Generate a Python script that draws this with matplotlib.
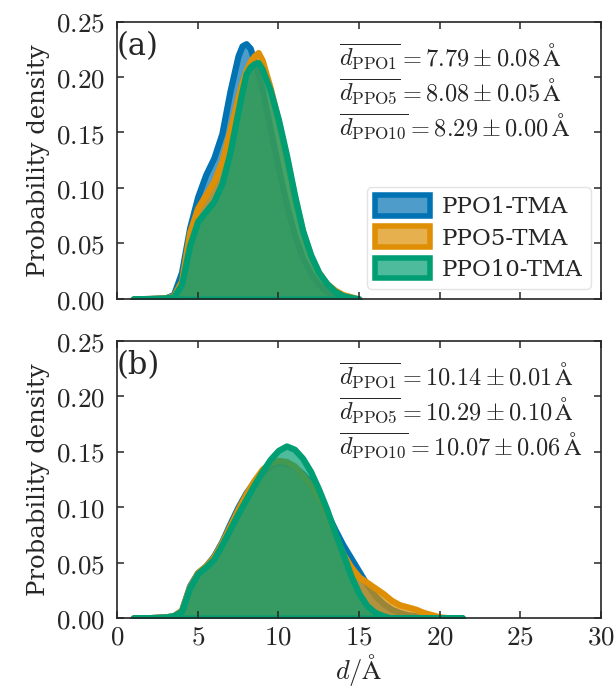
import numpy as np
import matplotlib
matplotlib.use("Agg")
import matplotlib.pyplot as plt
from matplotlib.ticker import FuncFormatter
from matplotlib.colors import to_rgba
from matplotlib.patches import Patch

plt.rcParams['font.family'] = ['DejaVu Serif']
plt.rcParams['mathtext.fontset'] = 'cm'

labels = ["PPO1-TMA", "PPO5-TMA", "PPO10-TMA"]
colors = ["#0173B2", "#DE8F05", "#029E73"]

# Panel (a)
xa = [1, 2, 3, 3.5, 4, 4.5, 5, 5.5, 6, 6.5, 7, 7.5, 7.75, 8, 8.25, 8.5, 8.75, 9, 9.5,
      10, 10.5, 11, 11.5, 12, 12.5, 13, 13.5, 14, 15]
a_ppo1 = [0, 0.0005, 0.001, 0.004, 0.024, 0.064, 0.092, 0.112, 0.127, 0.149, 0.187, 0.219, 0.228, 0.230,
          0.226, 0.215, 0.202, 0.188, 0.153, 0.118, 0.085, 0.058, 0.037, 0.023, 0.013, 0.007, 0.004, 0.002, 0]
a_ppo5 = [0, 0.0005, 0.001, 0.003, 0.016, 0.060, 0.082, 0.094, 0.106, 0.124, 0.152, 0.182, 0.195, 0.206,
          0.214, 0.219, 0.222, 0.215, 0.190, 0.160, 0.127, 0.092, 0.061, 0.039, 0.024, 0.014, 0.008, 0.004, 0]
a_ppo10 = [0, 0.0003, 0.001, 0.002, 0.013, 0.048, 0.070, 0.079, 0.088, 0.104, 0.132, 0.169, 0.187, 0.203,
           0.209, 0.212, 0.213, 0.207, 0.188, 0.162, 0.130, 0.094, 0.062, 0.040, 0.024, 0.014, 0.007, 0.003, 0]

# Panel (b)
xb = [1, 2, 3, 3.5, 4, 4.5, 5, 5.5, 6, 6.5, 7, 7.5, 8, 8.5, 9, 9.5, 10, 10.5, 11, 11.5, 12, 12.5,
      13, 13.5, 14, 14.5, 15, 15.5, 16, 16.5, 17, 17.5, 18, 18.5, 19, 19.5, 20, 20.5, 21.4]
b_ppo1 = [0, 0.0003, 0.001, 0.002, 0.007, 0.029, 0.041, 0.047, 0.056, 0.069, 0.085, 0.100, 0.113, 0.123,
          0.131, 0.137, 0.140, 0.139, 0.136, 0.130, 0.122, 0.110, 0.095, 0.080, 0.066, 0.054, 0.042, 0.030,
          0.020, 0.013, 0.008, 0.005, 0.003, 0.002, 0.001, 0.0005, 0, 0, 0]
b_ppo5 = [0, 0.0003, 0.001, 0.002, 0.007, 0.028, 0.041, 0.047, 0.055, 0.068, 0.083, 0.098, 0.112, 0.124,
          0.134, 0.140, 0.142, 0.141, 0.137, 0.129, 0.120, 0.108, 0.093, 0.075, 0.058, 0.046, 0.037, 0.032,
          0.027, 0.022, 0.016, 0.012, 0.010, 0.008, 0.005, 0.003, 0.001, 0.0003, 0]
b_ppo10 = [0, 0.0003, 0.001, 0.002, 0.006, 0.027, 0.040, 0.046, 0.053, 0.066, 0.080, 0.094, 0.107, 0.120,
           0.132, 0.143, 0.151, 0.155, 0.152, 0.144, 0.132, 0.116, 0.098, 0.077, 0.058, 0.038, 0.022, 0.011,
           0.005, 0.002, 0, 0, 0, 0, 0, 0, 0, 0, 0]

ann_a = [r"$\overline{d_{\mathrm{PPO1}}} = 7.79 \pm 0.08\,\mathrm{\AA}$",
         r"$\overline{d_{\mathrm{PPO5}}} = 8.08 \pm 0.05\,\mathrm{\AA}$",
         r"$\overline{d_{\mathrm{PPO10}}} = 8.29 \pm 0.00\,\mathrm{\AA}$"]
ann_b = [r"$\overline{d_{\mathrm{PPO1}}} = 10.14 \pm 0.01\,\mathrm{\AA}$",
         r"$\overline{d_{\mathrm{PPO5}}} = 10.29 \pm 0.10\,\mathrm{\AA}$",
         r"$\overline{d_{\mathrm{PPO10}}} = 10.07 \pm 0.06\,\mathrm{\AA}$"]

xticks = [0, 5, 10, 15, 20, 25, 30]
yticks = [0.00, 0.05, 0.10, 0.15, 0.20, 0.25]

fig = plt.figure(figsize=(6.16, 6.91), dpi=100)
W, H = 616, 691
axa = fig.add_axes([117 / W, 1 - 299 / H, 484 / W, 277.5 / H])
axb = fig.add_axes([117 / W, 1 - 618 / H, 484 / W, 277.5 / H])

dark = "#262626"
fmt_y = FuncFormatter(lambda v, p: f"${v:.2f}$")
fmt_x = FuncFormatter(lambda v, p: f"${v:.0f}$")

for ax, x, series, ann, tag in [(axa, xa, [a_ppo1, a_ppo5, a_ppo10], ann_a, "(a)"),
                                 (axb, xb, [b_ppo1, b_ppo5, b_ppo10], ann_b, "(b)")]:
    for y, c in zip(series, colors):
        ax.fill_between(x, 0, y, facecolor=to_rgba(c, 0.7), edgecolor=to_rgba(c, 1.0), linewidth=4.5)
    ax.set_xlim(0, 30)
    ax.set_ylim(0, 0.25)
    ax.set_xticks(xticks)
    ax.set_yticks(yticks)
    ax.yaxis.set_major_formatter(fmt_y)
    ax.xaxis.set_major_formatter(fmt_x)
    ax.tick_params(direction="in", top=True, right=True, length=5, width=1.1,
                   labelsize=19.5, colors=dark)
    ax.tick_params(axis="y", pad=9)
    ax.tick_params(axis="x", pad=4)
    for s in ax.spines.values():
        s.set_color(dark)
        s.set_linewidth(1.2)
    ax.set_ylabel("Probability density", fontsize=17.5, color=dark, labelpad=4)
    ax.text(0.0, 0.965, tag, transform=ax.transAxes, fontsize=22, va="top", ha="left", color=dark)
    for i, t in enumerate(ann):
        ax.text(0.459, 0.875 - i * 0.126, t, transform=ax.transAxes, fontsize=17.5,
                va="center", ha="left", color=dark)

axa.tick_params(labelbottom=False)
axb.set_xlabel(r"$d/\mathrm{\AA}$", fontsize=19, color=dark, labelpad=1)

handles = [Patch(facecolor=to_rgba(c, 0.7), edgecolor=c, linewidth=4, label=l)
           for c, l in zip(colors, labels)]
leg = axa.legend(handles=handles, loc="lower right", fontsize=16.5, frameon=True,
                 handlelength=2.4, handleheight=1.0, borderaxespad=0.45, labelspacing=0.35,
                 handletextpad=0.5, borderpad=0.35)
leg.get_frame().set_edgecolor("#dddddd")
for t in leg.get_texts():
    t.set_color(dark)

fig.savefig("out.png", dpi=100)
